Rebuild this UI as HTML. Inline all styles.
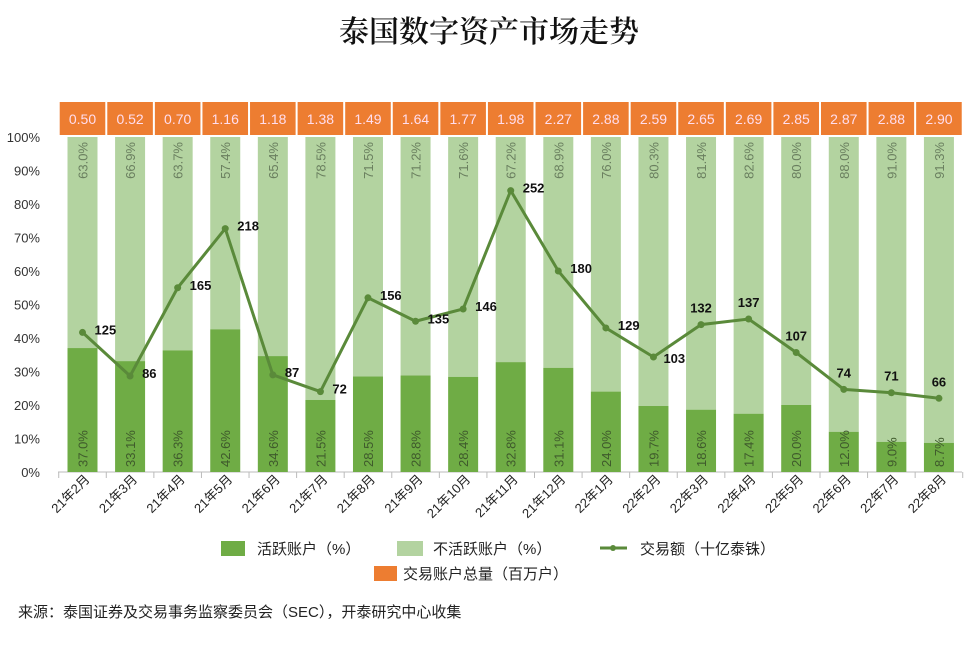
<!DOCTYPE html>
<html><head><meta charset="utf-8"><style>
body{margin:0;background:#fff;}
svg text{font-family:"Liberation Sans","Noto Sans CJK SC",sans-serif;}
</style></head><body>
<svg width="978" height="643" viewBox="0 0 978 643" xmlns="http://www.w3.org/2000/svg">
<text x="489" y="42" text-anchor="middle" font-size="30" font-weight="600" style="font-family:'Noto Serif CJK SC',serif" fill="#111">泰国数字资产市场走势</text>
<g id="g"></g>
</svg>
<script>
const act=[37.0,33.1,36.3,42.6,34.6,21.5,28.5,28.8,28.4,32.8,31.1,24.0,19.7,18.6,17.4,20.0,12.0,9.0,8.7];
const ina=[63.0,66.9,63.7,57.4,65.4,78.5,71.5,71.2,71.6,67.2,68.9,76.0,80.3,81.4,82.6,80.0,88.0,91.0,91.3];
const tot=["0.50","0.52","0.70","1.16","1.18","1.38","1.49","1.64","1.77","1.98","2.27","2.88","2.59","2.65","2.69","2.85","2.87","2.88","2.90"];
const vol=[125,86,165,218,87,72,156,135,146,252,180,129,103,132,137,107,74,71,66];
const cats=["21年2月","21年3月","21年4月","21年5月","21年6月","21年7月","21年8月","21年9月","21年10月","21年11月","21年12月","22年1月","22年2月","22年3月","22年4月","22年5月","22年6月","22年7月","22年8月"];
const y0=472,sc=3.35,x0=82.5,dx=47.58,bw=30;
let s='';
for(let i=0;i<=10;i++){const y=y0-i*10*sc;s+=`<text x="40" y="${y+5}" text-anchor="end" font-size="13" fill="#333">${i*10}%</text>`;}
s+=`<line x1="58" y1="${y0}" x2="962" y2="${y0}" stroke="#bbb"/>`;
for(let i=0;i<=19;i++){const x=x0-dx/2+i*dx;s+=`<line x1="${x}" y1="${y0}" x2="${x}" y2="${y0+6}" stroke="#bbb"/>`;}
const pts=[];
for(let i=0;i<19;i++){const c=x0+i*dx;const ha=act[i]*sc;
s+=`<rect x="${c-bw/2}" y="${y0-100*sc}" width="${bw}" height="${100*sc-ha}" fill="#b3d3a0"/>`;
s+=`<rect x="${c-bw/2}" y="${y0-ha}" width="${bw}" height="${ha}" fill="#6fac45"/>`;
s+=`<rect x="${x0-dx/2+i*dx+1}" y="102" width="${dx-2}" height="33" fill="#ed7d31"/>`;
s+=`<text x="${c}" y="124" text-anchor="middle" font-size="14" fill="#fde">${tot[i]}</text>`;
s+=`<text transform="translate(${c+5},${y0-5}) rotate(-90)" font-size="13" fill="#3f5a2c">${act[i].toFixed(1)}%</text>`;
s+=`<text transform="translate(${c+5},${y0-100*sc+5}) rotate(-90)" text-anchor="end" font-size="13" fill="#6a7f5f">${ina[i].toFixed(1)}%</text>`;
pts.push([c,y0-vol[i]*sc/3]);
s+=`<text transform="translate(${c+8},${y0+8}) rotate(-45)" text-anchor="end" font-size="13" fill="#222">${cats[i]}</text>`;
}
s+=`<polyline points="${pts.map(p=>p.join(',')).join(' ')}" fill="none" stroke="#5a8a3a" stroke-width="3"/>`;
pts.forEach((p,i)=>{s+=`<circle cx="${p[0]}" cy="${p[1]}" r="3.5" fill="#5a8a3a"/>`;
let lx=p[0]+12,ly=p[1]+2,a='start';
if(i>=13){lx=p[0];ly=p[1]-12;a='middle';}
if(i==12){lx=p[0]+10;ly=p[1]+6;}
s+=`<text x="${lx}" y="${ly}" text-anchor="${a}" font-size="13" font-weight="bold" fill="#111">${vol[i]}</text>`;});
s+=`<rect x="221" y="541" width="24" height="15" fill="#6fac45"/><text x="257" y="554" font-size="15" fill="#222">活跃账户（%）</text>`;
s+=`<rect x="397" y="541" width="26" height="15" fill="#b3d3a0"/><text x="433" y="554" font-size="15" fill="#222">不活跃账户（%）</text>`;
s+=`<line x1="600" y1="548" x2="627" y2="548" stroke="#5a8a3a" stroke-width="3"/><circle cx="613" cy="548" r="3" fill="#5a8a3a"/><text x="640" y="554" font-size="15" fill="#222">交易额（十亿泰铢）</text>`;
s+=`<rect x="374" y="566" width="23" height="15" fill="#ed7d31"/><text x="403" y="579" font-size="15" fill="#222">交易账户总量（百万户）</text>`;
s+=`<text x="18" y="617" font-size="15" fill="#222">来源：泰国证券及交易事务监察委员会（SEC），开泰研究中心收集</text>`;
document.getElementById('g').innerHTML=s;
</script>
</body></html>
